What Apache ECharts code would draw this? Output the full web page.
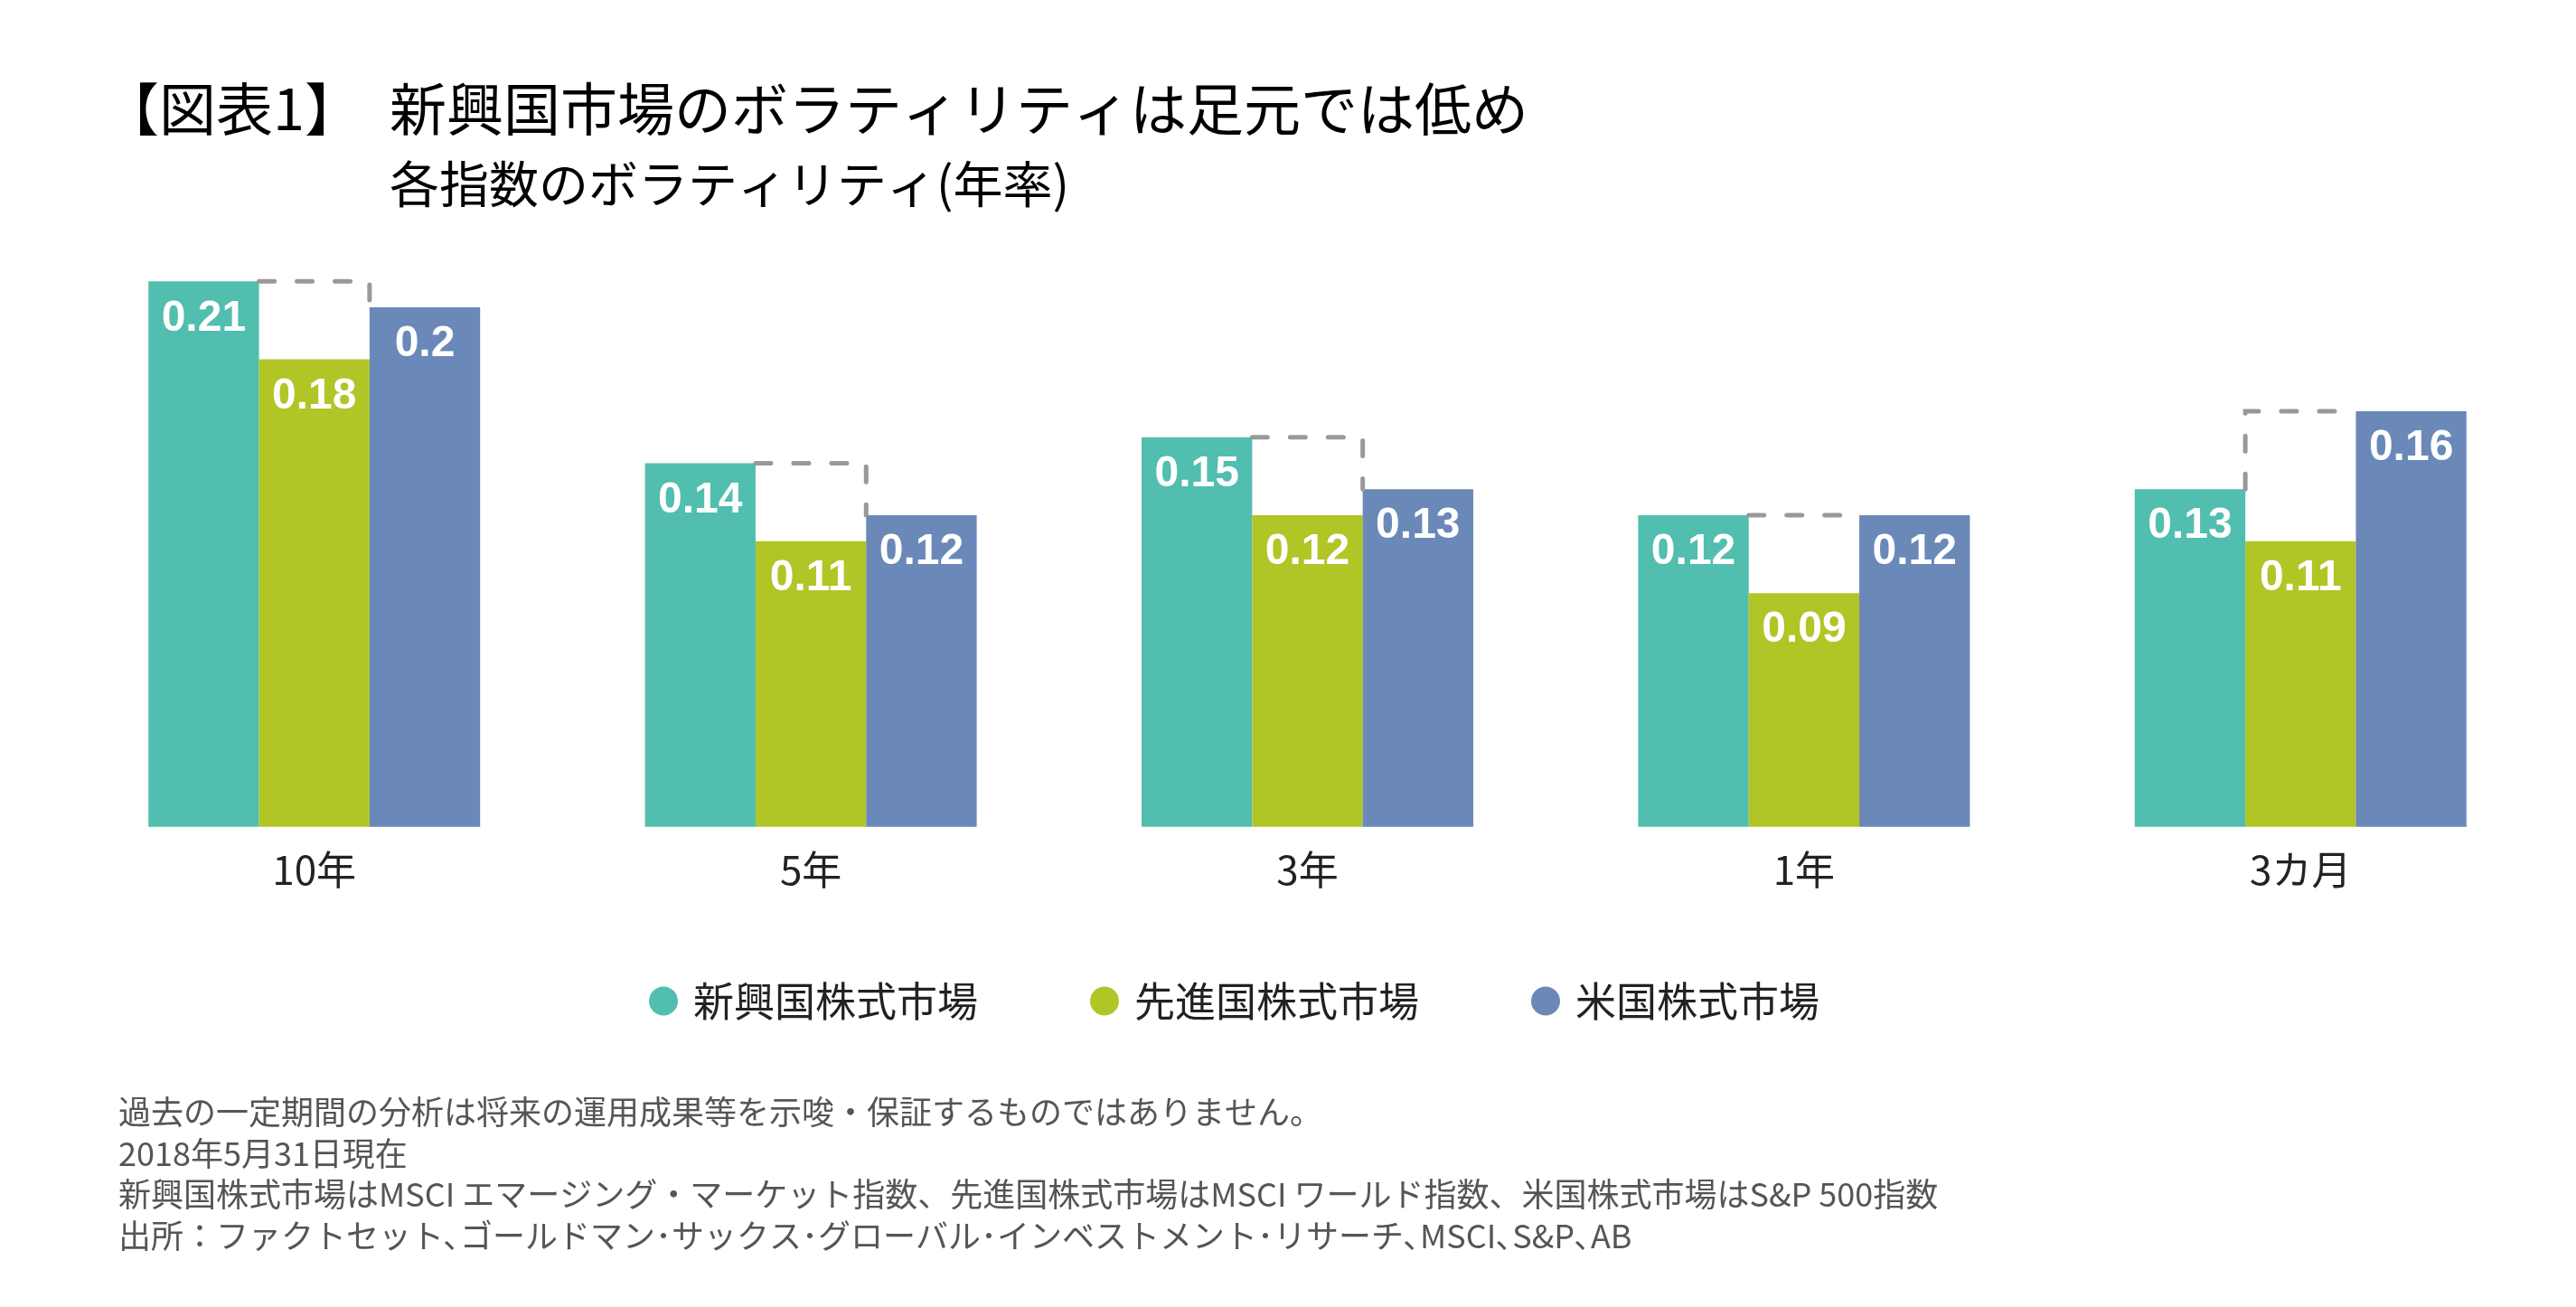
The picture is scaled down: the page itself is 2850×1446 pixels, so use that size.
<!DOCTYPE html>
<html><head><meta charset="utf-8">
<script src="https://cdn.jsdelivr.net/npm/echarts@6/dist/echarts.min.js"></script>
<style>html,body{margin:0;padding:0;background:#fff}#c{width:2850px;height:1446px}</style>
</head><body><div id="c"></div>
<script>
// ---- data ----
const categories = ['10年', '5年', '3年', '1年', '3カ月'];
const seriesNames = ['新興国株式市場', '先進国株式市場', '米国株式市場'];
const emerging = [0.21, 0.14, 0.15, 0.12, 0.13];
const developed = [0.18, 0.11, 0.12, 0.09, 0.11];
const usMarket = [0.20, 0.12, 0.13, 0.12, 0.16];
const titleTag = '【図表1】';
const titleMain = '新興国市場のボラティリティは足元では低め';
const subtitle = '各指数のボラティリティ(年率)';
const notes = [
  '過去の一定期間の分析は将来の運用成果等を示唆・保証するものではありません。',
  '2018年5月31日現在',
  '新興国株式市場はMSCI エマージング・マーケット指数、先進国株式市場はMSCI ワールド指数、米国株式市場はS&P 500指数',
  '出所：ファクトセット､ゴールドマン･サックス･グローバル･インベストメント･リサーチ､MSCI､S&P､AB'
];

// ---- styles ----
const colors = ['#51BEAF', '#B1C526', '#6A88B8'];
const JP = '"Noto Sans CJK JP", "Noto Sans", sans-serif';
const NUM = '"Liberation Sans", Arial, sans-serif';
const GAP = 0.332;

const chart = echarts.init(document.getElementById('c'), null, {renderer: 'canvas'});

const barLabel = {
  show: true, position: 'insideTop', distance: 17,
  color: '#fff', fontSize: 48, fontWeight: 'bold', fontFamily: NUM
};

const peakData = categories.map((c, i) => [i, emerging[i], usMarket[i]]);

chart.setOption({
  animation: false,
  backgroundColor: '#fff',
  title: [
    {text: titleTag, left: 113, top: 89, padding: 0,
     textStyle: {fontSize: 63, lineHeight: 63, fontWeight: 'normal', fontFamily: JP, color: '#000'}},
    {text: titleMain, left: 431, top: 89, padding: 0,
     textStyle: {fontSize: 63, lineHeight: 63, fontWeight: 'normal', fontFamily: JP, color: '#000'}},
    {text: subtitle, left: 431, top: 176, padding: 0,
     textStyle: {fontSize: 55, lineHeight: 55, fontWeight: 'normal', fontFamily: JP, color: '#000'}},
    {text: notes.join('\n'), left: 131, top: 1208, padding: 0,
     textStyle: {fontSize: 36, lineHeight: 45.4, fontWeight: 'normal', fontFamily: JP, color: '#555'}}
  ],
  legend: {
    left: 718, top: 1085, icon: 'circle', itemWidth: 32, itemHeight: 32, itemGap: 124,
    padding: 0,
    data: seriesNames,
    textStyle: {fontSize: 45, fontFamily: JP, color: '#222', padding: [0, 0, 0, 12]}
  },
  grid: {left: 73, right: 30, top: 196.45, bottom: 531.3, containLabel: false},
  xAxis: {
    type: 'category', data: categories,
    axisLine: {show: false}, axisTick: {show: false},
    axisLabel: {margin: 26, fontSize: 44, fontFamily: JP, color: '#222'}
  },
  yAxis: {
    type: 'value', min: 0, max: 0.25, show: false,
    splitLine: {show: false}
  },
  series: [
    {name: seriesNames[0], type: 'bar', data: emerging, barGap: '0%', barCategoryGap: (GAP * 100) + '%',
     itemStyle: {color: colors[0]}, label: barLabel},
    {name: seriesNames[1], type: 'bar', data: developed,
     itemStyle: {color: colors[1]}, label: barLabel},
    {name: seriesNames[2], type: 'bar', data: usMarket,
     itemStyle: {color: colors[2]}, label: barLabel},
    {name: 'peak', type: 'custom', data: peakData, z: 5, silent: true,
     encode: {x: 0, y: [1, 2]},
     renderItem: function (params, api) {
       const i = api.value(0);
       const l = api.value(1), r = api.value(2);
       const top = Math.max(l, r);
       const c = api.coord([i, top]);
       const band = api.size([1, 0])[0];
       const hb = band * (1 - GAP) / 3 / 2;
       const yl = api.coord([i, l])[1];
       const yr = api.coord([i, r])[1];
       return {
         type: 'polyline',
         shape: {points: [[c[0] - hb, yl], [c[0] - hb, c[1]], [c[0] + hb, c[1]], [c[0] + hb, yr]]},
         style: {stroke: '#999999', lineWidth: 5, lineDash: [17, 25], lineCap: 'round', fill: null}
       };
     }}
  ]
});
</script></body></html>
